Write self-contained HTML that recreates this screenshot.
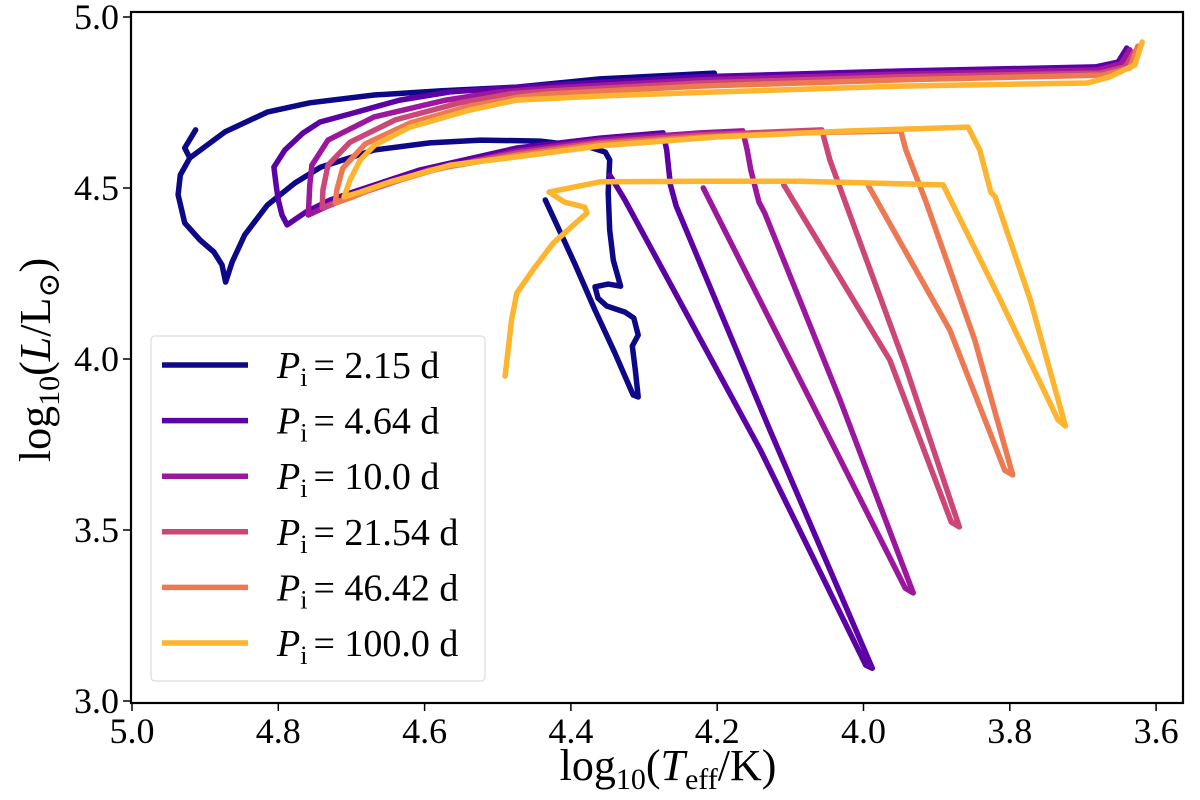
<!DOCTYPE html>
<html><head><meta charset="utf-8"><style>
html,body{margin:0;padding:0;background:#fff;}
svg{display:block;font-family:"Liberation Serif","DejaVu Serif",serif;}
</style></head><body>
<svg id="chart" width="1200" height="800" viewBox="0 0 1200 800" xmlns="http://www.w3.org/2000/svg">
<g id="tracks"></g>
<rect x="131" y="12" width="1052" height="691" fill="none" stroke="#000" stroke-width="2.2"/>
<g id="xticks"></g>
<g id="yticks"></g>
<text x="668" y="780" text-anchor="middle" font-size="44">log<tspan font-size="30" dy="9">10</tspan><tspan dy="-9">(</tspan><tspan font-style="italic">T</tspan><tspan font-size="30" dy="9">eff</tspan><tspan dy="-9">/K)</tspan></text>
<text transform="translate(50,360) rotate(-90)" text-anchor="middle" font-size="44">log<tspan font-size="30" dy="9">10</tspan><tspan dy="-9">(</tspan><tspan font-style="italic">L</tspan><tspan>/L</tspan><tspan font-size="30" dy="9">⊙</tspan><tspan dy="-9">)</tspan></text>
<g id="legend">
<rect x="151" y="336" width="334" height="345" rx="4" fill="#fff" fill-opacity="0.85" stroke="#ddd" stroke-width="1.2"/>
</g>
</svg>
<script>
const xTickValues = [5.0, 4.8, 4.6, 4.4, 4.2, 4.0, 3.8, 3.6];
const yTickValues = [3.0, 3.5, 4.0, 4.5, 5.0];
const periodLabels = ["2.15", "4.64", "10.0", "21.54", "46.42", "100.0"];
const trackColors = ["#0d0887", "#5c01a6", "#9c179e", "#cc4778", "#ed7953", "#fdb42f"];

const track1T = [[4.204,4.360,4.474,4.579,4.669,4.757,4.815,4.873,4.921,4.928,4.913],
 [4.921,4.934,4.937,4.928,4.907,4.888,4.877,4.872,4.863,4.846,4.815,4.777,4.742,4.669,4.593,4.523,4.442,4.375,4.353,4.347,4.349,4.347,4.342,4.332,4.349,4.367,4.363,4.351,4.326,4.314,4.308,4.316,4.312,4.308,4.315,4.340,4.367,4.394,4.411,4.435]];
const track1L = [[4.836,4.819,4.795,4.784,4.772,4.749,4.722,4.664,4.588,4.617,4.670],
 [4.588,4.538,4.480,4.398,4.348,4.313,4.275,4.225,4.284,4.363,4.450,4.515,4.561,4.611,4.632,4.640,4.637,4.620,4.605,4.582,4.485,4.377,4.289,4.213,4.219,4.211,4.178,4.155,4.137,4.120,4.070,4.038,3.968,3.889,3.895,4.018,4.143,4.275,4.354,4.465]];
const track2T = [[3.640,3.652,3.683,3.950,4.223,4.429,4.565,4.634,4.698,4.743,4.766,4.791,4.806,4.803,4.800,4.795,4.788,4.762,4.729,4.698,4.606,4.474,4.360,4.274,4.269,4.264,4.256,4.128,3.988,3.997,4.141,4.327,4.347]];
const track2L = [[4.909,4.868,4.854,4.842,4.825,4.801,4.781,4.757,4.719,4.693,4.661,4.611,4.561,4.509,4.465,4.421,4.392,4.430,4.465,4.488,4.553,4.617,4.646,4.661,4.611,4.509,4.447,3.792,3.096,3.105,3.734,4.468,4.538]];
const track3T = [[3.636,3.648,3.681,3.950,4.223,4.429,4.498,4.571,4.669,4.732,4.754,4.757,4.759,4.736,4.698,4.606,4.474,4.360,4.223,4.165,4.159,4.154,4.143,4.135,4.032,3.932,3.943,4.059,4.219]];
const track3L = [[4.904,4.863,4.845,4.833,4.816,4.792,4.781,4.757,4.708,4.640,4.567,4.509,4.421,4.444,4.477,4.544,4.608,4.640,4.661,4.667,4.611,4.553,4.459,4.427,3.880,3.316,3.330,3.822,4.500]];
const track4T = [[3.630,3.642,3.677,3.950,4.223,4.429,4.483,4.552,4.640,4.702,4.732,4.739,4.740,4.716,4.675,4.593,4.474,4.360,4.223,4.057,4.046,4.025,3.943,3.869,3.880,3.964,4.109]];
const track4L = [[4.898,4.854,4.836,4.825,4.807,4.784,4.775,4.749,4.699,4.634,4.567,4.494,4.442,4.462,4.494,4.553,4.602,4.634,4.655,4.670,4.582,4.459,3.982,3.509,3.523,3.997,4.509]];
const track5T = [[3.625,3.636,3.673,3.950,4.223,4.429,4.470,4.538,4.620,4.681,4.712,4.720,4.722,4.702,4.661,4.579,4.474,4.360,4.223,4.087,3.949,3.942,3.915,3.848,3.796,3.807,3.882,3.994]];
const track5L = [[4.915,4.851,4.830,4.816,4.798,4.775,4.766,4.740,4.690,4.629,4.558,4.494,4.456,4.471,4.506,4.558,4.596,4.629,4.649,4.661,4.667,4.611,4.462,4.056,3.661,3.675,4.085,4.509]];
const track6T = [[3.619,3.629,3.663,3.694,3.950,4.200,4.360,4.474,4.538,4.620,4.668,4.688,4.702,4.710,4.688,4.647,4.565,4.474,4.360,4.200,4.018,3.857,3.841,3.826,3.820,3.772,3.724,3.734,3.813,3.872,3.891,4.087,4.223,4.360,4.430,4.409,4.381,4.378,4.424,4.449,4.474,4.481,4.490]];
const track6L = [[4.927,4.860,4.825,4.807,4.798,4.781,4.769,4.757,4.728,4.678,4.626,4.582,4.523,4.474,4.488,4.518,4.567,4.591,4.623,4.649,4.667,4.678,4.611,4.488,4.474,4.173,3.804,3.822,4.173,4.427,4.509,4.520,4.520,4.518,4.488,4.459,4.444,4.427,4.339,4.269,4.193,4.114,3.950]];

const tracksT = [track1T, track2T, track3T, track4T, track5T, track6T];
const tracksL = [track1L, track2L, track3L, track4L, track5L, track6L];

const X0 = 132, XS = 731.5, Y0 = 17, YS = 342;
function xScale(t){ return X0 + (5.0 - t) * XS; }
function yScale(l){ return Y0 + (5.0 - l) * YS; }
const NS = "http://www.w3.org/2000/svg";

const xg = document.getElementById('xticks');
xTickValues.forEach(v => {
  const x = xScale(v);
  const ln = document.createElementNS(NS,'line');
  
  
  ln.setAttribute('x1', x); ln.setAttribute('x2', x);
  ln.setAttribute('y1', 703); ln.setAttribute('y2', 711);
  ln.setAttribute('stroke', '#000'); ln.setAttribute('stroke-width', '1.5');
  xg.appendChild(ln);
  const tx = document.createElementNS(NS,'text');
  
  
  tx.setAttribute('x', x); tx.setAttribute('y', 743);
  tx.setAttribute('text-anchor', 'middle'); tx.setAttribute('font-size', '36');
  tx.textContent = v.toFixed(1);
  xg.appendChild(tx);
});
const yg = document.getElementById('yticks');
yTickValues.forEach(v => {
  const y = yScale(v);
  const ln = document.createElementNS(NS,'line');
  
  
  ln.setAttribute('x1', 123); ln.setAttribute('x2', 131);
  ln.setAttribute('y1', y); ln.setAttribute('y2', y);
  ln.setAttribute('stroke', '#000'); ln.setAttribute('stroke-width', '1.5');
  yg.appendChild(ln);
  const tx = document.createElementNS(NS,'text');
  
  
  tx.setAttribute('x', 119); tx.setAttribute('y', y + 12);
  tx.setAttribute('text-anchor', 'end'); tx.setAttribute('font-size', '36');
  tx.textContent = v.toFixed(1);
  yg.appendChild(tx);
});

const tg = document.getElementById('tracks');
tracksT.forEach((segsT, i) => {
  const segsL = tracksL[i];
  segsT.forEach((ts, s) => {
    const ls = segsL[s];
    let d = '';
    ts.forEach((t, k) => { d += (k ? 'L' : 'M') + xScale(t).toFixed(1) + ',' + yScale(ls[k]).toFixed(1); });
    const p = document.createElementNS(NS,'path');
    
    
    p.setAttribute('d', d);
    p.setAttribute('fill', 'none');
    p.setAttribute('stroke', trackColors[i]);
    p.setAttribute('stroke-width', '5.5');
    p.setAttribute('stroke-linejoin', 'round');
    p.setAttribute('stroke-linecap', 'round');
    tg.appendChild(p);
  });
});

const lg = document.getElementById('legend');
periodLabels.forEach((lab, i) => {
  const y = 365 + i * 55.6;
  const ln = document.createElementNS(NS,'line');
  
  
  ln.setAttribute('x1', 162); ln.setAttribute('x2', 248);
  ln.setAttribute('y1', y); ln.setAttribute('y2', y);
  ln.setAttribute('stroke', trackColors[i]); ln.setAttribute('stroke-width', '5.5');
  lg.appendChild(ln);
  const tx = document.createElementNS(NS,'text');
  
  
  tx.setAttribute('x', 277); tx.setAttribute('y', y + 13);
  tx.setAttribute('font-size', '38');
  tx.innerHTML = '<tspan font-style="italic">P</tspan><tspan font-size="26" dy="8">i</tspan><tspan dy="-8" dx="6">= ' + lab + ' d</tspan>';
  lg.appendChild(tx);
});
</script>
</body></html>
